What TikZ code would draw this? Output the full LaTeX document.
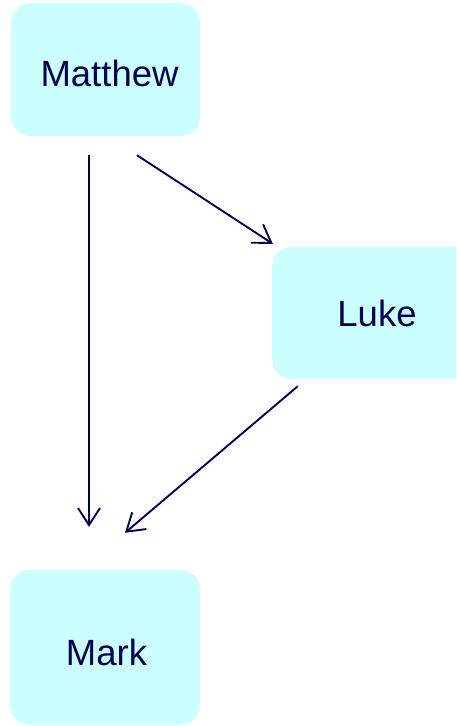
\documentclass[tikz,border=0pt]{standalone}
\usepackage{fontspec}
\setmainfont{Liberation Sans}
\usetikzlibrary{arrows.meta}
\definecolor{boxfill}{HTML}{CCFFFF}
\definecolor{ink}{HTML}{000050}
\tikzset{
  gbox/.style={fill=boxfill, draw=none, rounded corners=20pt, text=ink,
    font=\fontsize{36.5}{40}\selectfont, inner sep=0pt},
  arr/.style={draw=ink, line width=1.9pt, -{Straight Barb[length=17pt,width=22pt,line width=1.9pt]}}
}
\begin{document}
\begin{tikzpicture}[x=1pt,y=-1pt]
\clip (0,0) rectangle (456,726);
\node[gbox, minimum width=189pt, minimum height=133pt, text height=33.5pt, text depth=0pt] (matthew) at (105.5,69.5) {\hspace*{8pt}Matthew};
\node[gbox, minimum width=210pt, minimum height=132pt] (luke) at (377,313) {Luke};
\node[gbox, minimum width=190pt, minimum height=155pt, text height=36.5pt, text depth=0pt] (mark) at (105,647.5) {\hspace*{3pt}Mark};
\draw[arr] ([shift={(-16.5,19)}]matthew.south) -- ([shift={(-16,-43)}]mark.north);
\draw[arr] ([shift={(31.5,19)}]matthew.south) -- ([shift={(1,-3)}]luke.north west);
\draw[arr] ([shift={(26,7)}]luke.south west) -- ([shift={(20,-37)}]mark.north);
\end{tikzpicture}
\end{document}
